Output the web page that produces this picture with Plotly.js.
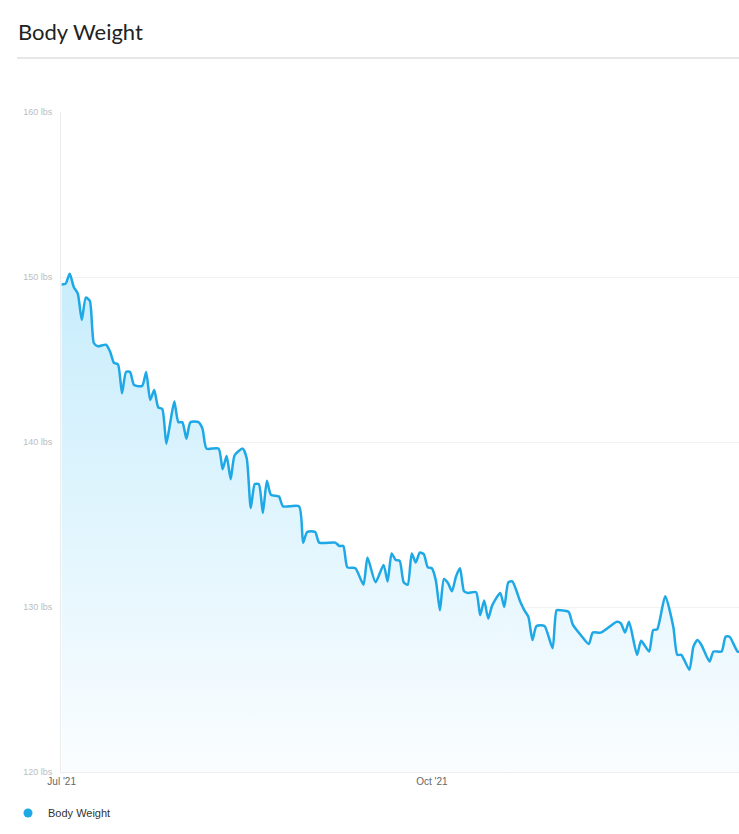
<!DOCTYPE html>
<html>
<head>
<meta charset="utf-8">
<script src="https://cdn.plot.ly/plotly-3.0.1.min.js"></script>
<style>
  html, body { margin: 0; padding: 0; background: #fff; }
  #chart { width: 739px; height: 834px; }
</style>
</head>
<body>
<div id="chart"></div>
<script>
const dates = [
    '2021-07-01', '2021-07-02', '2021-07-03', '2021-07-04', '2021-07-05', '2021-07-06', '2021-07-07',
    '2021-07-08', '2021-07-09', '2021-07-10', '2021-07-12', '2021-07-13', '2021-07-14', '2021-07-15',
    '2021-07-16', '2021-07-17', '2021-07-18', '2021-07-19', '2021-07-21', '2021-07-22', '2021-07-23',
    '2021-07-24', '2021-07-25', '2021-07-26', '2021-07-27', '2021-07-28', '2021-07-29', '2021-07-30',
    '2021-07-31', '2021-08-01', '2021-08-02', '2021-08-04', '2021-08-05', '2021-08-06', '2021-08-09',
    '2021-08-10', '2021-08-11', '2021-08-12', '2021-08-13', '2021-08-15', '2021-08-16', '2021-08-17',
    '2021-08-18', '2021-08-19', '2021-08-20', '2021-08-21', '2021-08-22', '2021-08-24', '2021-08-25',
    '2021-08-29', '2021-08-30', '2021-08-31', '2021-09-02', '2021-09-03', '2021-09-07', '2021-09-08',
    '2021-09-09', '2021-09-10', '2021-09-12', '2021-09-14', '2021-09-15', '2021-09-17', '2021-09-19',
    '2021-09-20', '2021-09-21', '2021-09-22', '2021-09-23', '2021-09-24', '2021-09-25', '2021-09-26',
    '2021-09-27', '2021-09-28', '2021-09-29', '2021-09-30', '2021-10-01', '2021-10-02', '2021-10-03',
    '2021-10-04', '2021-10-05', '2021-10-06', '2021-10-07', '2021-10-08', '2021-10-09', '2021-10-10',
    '2021-10-12', '2021-10-13', '2021-10-14', '2021-10-15', '2021-10-16', '2021-10-18', '2021-10-19',
    '2021-10-20', '2021-10-21', '2021-10-23', '2021-10-24', '2021-10-25', '2021-10-26', '2021-10-27',
    '2021-10-29', '2021-10-31', '2021-11-01', '2021-11-02', '2021-11-04', '2021-11-05', '2021-11-07',
    '2021-11-09', '2021-11-10', '2021-11-12', '2021-11-16', '2021-11-17', '2021-11-18', '2021-11-19',
    '2021-11-21', '2021-11-22', '2021-11-24', '2021-11-25', '2021-11-26', '2021-11-28', '2021-11-30',
    '2021-12-01', '2021-12-02', '2021-12-04', '2021-12-05', '2021-12-06', '2021-12-07', '2021-12-09',
    '2021-12-10', '2021-12-12', '2021-12-13', '2021-12-14', '2021-12-16', '2021-12-17'];

const weights = [
    149.55, 149.6, 150.2, 149.4, 149.0, 147.4, 148.75,
    148.55, 146.0, 145.8, 145.9, 145.5, 144.8, 144.7,
    142.95, 144.25, 144.25, 143.45, 143.4, 144.25, 142.55,
    143.15, 142.1, 142.0, 139.9, 141.2, 142.45, 141.2,
    141.2, 140.2, 141.2, 141.2, 140.8, 139.6, 139.6,
    138.35, 139.15, 137.75, 139.2, 139.6, 139.0, 136.0,
    137.45, 137.45, 135.7, 137.65, 136.8, 136.7, 136.1,
    136.1, 133.9, 134.55, 134.55, 133.9, 133.9, 133.7,
    133.7, 132.4, 132.35, 131.35, 133.0, 131.5, 132.55,
    131.55, 133.25, 132.85, 132.8, 131.5, 131.35, 133.25,
    132.7, 133.3, 133.2, 132.4, 132.35, 131.6, 129.8,
    131.7, 131.45, 130.95, 131.85, 132.35, 130.95, 130.85,
    130.9, 129.5, 130.4, 129.3, 130.1, 130.85, 130.0,
    131.5, 131.55, 130.3, 129.8, 129.4, 128.0, 128.85,
    128.85, 127.5, 129.8, 129.8, 129.7, 128.95, 128.3,
    127.75, 128.45, 128.45, 129.1, 129.0, 128.45, 129.1,
    127.1, 127.95, 127.3, 128.6, 128.65, 130.65, 128.8,
    127.1, 127.1, 126.2, 127.6, 128.0, 127.7, 126.7,
    127.3, 127.3, 128.2, 128.2, 127.3, 127.3];

const seriesName = 'Body Weight';
const lineColor = '#1ea8e6';

const weightTrace = {
    x: dates,
    y: weights,
    mode: 'lines',
    line: { color: lineColor, width: 2.5, shape: 'spline', smoothing: 0.6 },
    fill: 'tozeroy',
    fillgradient: {
        type: 'vertical',
        start: 120,
        stop: 150,
        colorscale: [[0, '#fafdff'], [1, '#c8edfc']],
    },
    hoverinfo: 'x+y',
    showlegend: false,
};

// legend entry only, drawn as a round dot like the original
const legendTrace = {
    x: [null],
    y: [null],
    mode: 'markers',
    marker: { color: lineColor, size: 9, symbol: 'circle' },
    name: seriesName,
};

const layout = {
    width: 739,
    height: 834,
    margin: { l: 61, r: 0, t: 112, b: 62, autoexpand: false },
    paper_bgcolor: '#fff',
    plot_bgcolor: '#fff',
    font: { family: 'Liberation Sans, Arial, sans-serif' },
    title: {
        text: 'Body Weight',
        xref: 'container', yref: 'container',
        x: 18 / 739, xanchor: 'left',
        y: 1 - 32 / 834, yanchor: 'middle',
        font: { family: 'Lato, Noto Sans, sans-serif', size: 22, color: '#222' },
    },
    xaxis: {
        type: 'date',
        range: ['2021-06-30 20:00', '2021-12-16 08:00'],
        tick0: '2021-07-01',
        dtick: 'M3',
        tickformat: "%b '%y",
        showgrid: false,
        showline: true,
        linecolor: '#eeeeee',
        zeroline: false,
        ticks: '',
        tickfont: { size: 10, color: '#666' },
        fixedrange: true,
    },
    yaxis: {
        range: [120, 160],
        dtick: 10,
        ticksuffix: ' lbs',
        showgrid: true,
        gridcolor: '#f2f2f2',
        showline: true,
        linecolor: '#ececec',
        zeroline: false,
        ticks: '',
        ticklabelstandoff: 6,
        tickfont: { size: 9, color: '#bdbdbd' },
        fixedrange: true,
    },
    showlegend: true,
    legend: {
        xref: 'container', yref: 'container',
        x: 8 / 739, xanchor: 'left',
        y: 1 - 813 / 834, yanchor: 'middle',
        font: { size: 11, color: '#333' },
        bgcolor: 'rgba(0,0,0,0)',
    },
    shapes: [{
        type: 'line',
        xref: 'paper', yref: 'paper',
        x0: (17 - 61) / 678, x1: 1,
        y0: (772 - 58) / 660, y1: (772 - 58) / 660,
        line: { color: '#cfcfcf', width: 1 },
    }],
};

const chart = document.getElementById('chart');
Plotly.newPlot(chart, [weightTrace, legendTrace], layout, { displayModeBar: false, staticPlot: true });
</script>
</body>
</html>
